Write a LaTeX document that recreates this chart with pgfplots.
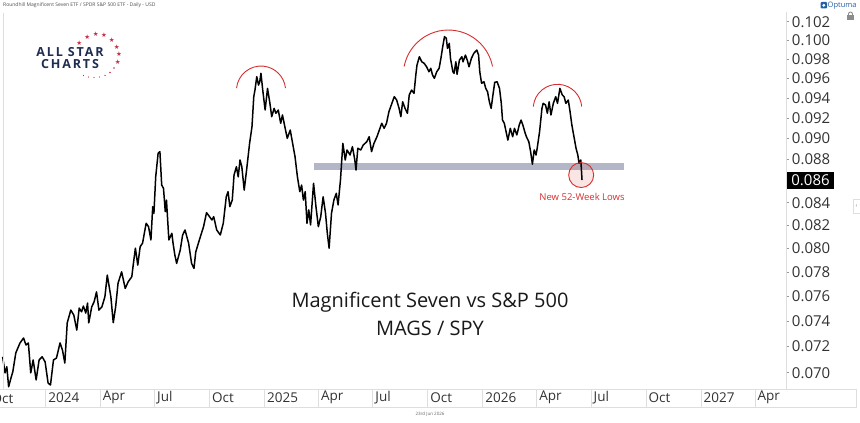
\documentclass[border=0pt]{standalone}
\usepackage{pgfplots}
\pgfplotsset{compat=1.18}
\usepackage{fontspec}
\setmainfont{Open Sans}
\newfontfamily\dejavu{DejaVu Sans}
\newfontfamily\logofont[LetterSpace=15]{Open Sans}
\definecolor{navy}{RGB}{30,45,80}
\definecolor{asred}{RGB}{200,45,70}
\definecolor{annred}{RGB}{215,45,45}
\definecolor{bandc}{RGB}{178,182,198}
\definecolor{optblue}{RGB}{35,95,165}
\definecolor{ticktext}{RGB}{50,50,50}
\definecolor{frame}{RGB}{222,222,222}

\begin{document}
\begin{tikzpicture}
\useasboundingbox (0pt,-34pt) rectangle (860pt,389pt);
\begin{axis}[
  at={(0pt,0pt)}, anchor=south west,
  scale only axis, width=786pt, height=379pt,
  xmin=-76.43, xmax=1238.15,
  ymode=log, ymin=0.068786, ymax=0.10329,
  yminorticks=false, xminorticks=false,
  axis line style={draw=none},
  tick align=outside,
  xtick pos=bottom, ytick pos=right,
  xtick={0,91,182,274,366,456,547,639,731,821,912,1004,1096,1186},
  xticklabels={2024,Apr,Jul,Oct,2025,Apr,Jul,Oct,2026,Apr,Jul,Oct,2027,Apr},
  ytick={0.070,0.072,0.074,0.076,0.078,0.080,0.082,0.084,0.086,0.088,0.090,0.092,0.094,0.096,0.098,0.100,0.102},
  yticklabels={0.070,0.072,0.074,0.076,0.078,0.080,0.082,0.084,,0.088,0.090,0.092,0.094,0.096,0.098,0.100,0.102},
  xtick style={draw=frame, line width=0.6pt, /pgfplots/major tick length=18.5pt},
  ytick style={draw=black!40, line width=0.5pt, /pgfplots/major tick length=3pt},
  xticklabel style={font=\fontsize{13.5}{14}\selectfont, text=ticktext, anchor=west, inner sep=0pt, xshift=2.5pt, yshift=-4.5pt},
  yticklabel style={font=\fontsize{15}{15}\selectfont, text=ticktext, anchor=west, inner sep=0pt, xshift=1.5pt},
  clip=true,
]
\fill[bandc] (axis cs:448.7,0.0870) rectangle (axis cs:967.2,0.08763);
\fill[annred, fill opacity=0.12] (axis cs:895.6,0.08653) circle[radius=12.5pt];
\addplot[black, line width=1.5pt, line join=round, mark=none] coordinates {
(-72,0.07121) (-68,0.06998) (-65,0.07045) (-62,0.06895) (-58,0.06961) (-55,0.07007) (-50,0.07150) (-43,0.07227) (-37,0.07266) (-33,0.07211) (-29,0.07227) (-25,0.06998) (-21,0.07096) (-16,0.06946) (-11,0.07096) (-6,0.07121) (-1,0.07083) (4,0.06923) (8,0.06908) (13,0.07096) (18,0.07111) (24,0.07227) (28,0.07173) (32,0.07073) (36,0.07384) (42,0.07487) (47,0.07447) (52,0.07328) (56,0.07503) (60,0.07473) (63,0.07519) (67,0.07463) (70,0.07543) (72,0.07384) (77,0.07513) (81,0.07554) (85,0.07635) (89,0.07487) (94,0.07513) (99,0.07594) (103,0.07773) (109,0.07594) (113,0.07386) (117,0.07513) (121,0.07705) (127,0.07801) (133,0.07663) (138,0.07718) (144,0.07759) (146,0.07843) (150,0.08000) (154,0.07857) (158,0.08013) (162,0.08043) (168,0.08217) (172,0.08187) (176,0.08071) (179,0.08365) (181,0.08305) (184,0.08637) (188,0.08857) (191,0.08873) (194,0.08561) (197,0.08531) (200,0.08320) (202,0.08424) (206,0.08071) (211,0.08129) (213,0.08043) (216,0.07942) (219,0.07871) (225,0.07985) (229,0.08114) (233,0.08158) (239,0.08043) (244,0.07871) (248,0.07829) (251,0.07970) (257,0.08071) (264,0.08187) (269,0.08311) (274,0.08275) (278,0.08246) (281,0.08275) (286,0.08158) (292,0.08114) (297,0.08217) (302,0.08454) (305,0.08500) (308,0.08365) (312,0.08424) (315,0.08653) (319,0.08731) (322,0.08637) (325,0.08794) (328,0.08731) (332,0.08515) (336,0.08700) (341,0.08952) (345,0.09113) (348,0.09412) (350,0.09479) (353,0.09616) (356,0.09530) (358,0.09564) (360,0.09651) (363,0.09479) (367,0.09278) (371,0.09496) (375,0.09345) (378,0.09212) (382,0.09295) (385,0.09246) (389,0.09278) (393,0.09147) (396,0.09229) (400,0.09113) (404,0.09001) (409,0.09081) (412,0.08984) (417,0.08825) (421,0.08637) (425,0.08500) (428,0.08561) (431,0.08424) (434,0.08500) (437,0.08217) (440,0.08335) (443,0.08202) (448,0.08577) (452,0.08365) (456,0.08187) (460,0.08275) (464,0.08454) (468,0.08305) (471,0.08129) (474,0.08000) (478,0.08305) (482,0.08424) (486,0.08485) (489,0.08380) (493,0.08607) (497,0.08952) (501,0.08794) (504,0.08889) (509,0.08841) (513,0.08920) (517,0.08794) (519,0.08700) (522,0.08905) (527,0.08889) (531,0.08936) (537,0.08968) (541,0.09016) (545,0.08873) (549,0.08952) (554,0.09016) (558,0.09081) (562,0.09147) (566,0.09098) (570,0.09147) (574,0.09261) (583,0.09412) (587,0.09378) (591,0.09295) (594,0.09212) (597,0.09361) (601,0.09295) (605,0.09246) (608,0.09429) (612,0.09479) (616,0.09446) (619,0.09633) (621,0.09737) (625,0.09824) (629,0.09771) (633,0.09755) (637,0.09719) (641,0.09667) (644,0.09703) (647,0.09633) (650,0.09599) (654,0.09667) (658,0.09703) (661,0.09807) (664,0.09930) (667,0.10038) (670,0.10020) (672,0.09913) (675,0.09966) (677,0.09807) (681,0.09667) (683,0.09651) (686,0.09771) (688,0.09640) (692,0.09789) (696,0.09824) (698,0.09771) (702,0.09842) (705,0.09789) (708,0.09719) (712,0.09807) (716,0.09860) (721,0.09895) (724,0.09842) (726,0.09667) (729,0.09548) (733,0.09564) (736,0.09496) (739,0.09462) (742,0.09361) (745,0.09295) (748,0.09429) (751,0.09558) (755,0.09564) (759,0.09496) (762,0.09345) (764,0.09179) (767,0.09147) (770,0.09065) (773,0.08984) (777,0.09098) (781,0.09016) (784,0.09098) (788,0.09033) (792,0.09130) (795,0.09179) (798,0.09130) (802,0.09049) (804,0.09016) (808,0.08968) (811,0.08873) (814,0.08754) (817,0.08889) (820,0.08841) (822,0.08905) (826,0.09065) (830,0.09295) (832,0.09345) (836,0.09328) (839,0.09246) (842,0.09361) (845,0.09229) (849,0.09345) (853,0.09412) (856,0.09345) (860,0.09496) (864,0.09429) (867,0.09412) (870,0.09345) (874,0.09378) (877,0.09261) (880,0.09130) (884,0.09001) (887,0.08905) (890,0.08841) (892,0.08763) (895,0.08794) (897,0.08607)
};
\draw[annred, line width=0.9pt] (axis cs:895.6,0.08653) circle[radius=12.5pt];
\draw[annred, line width=0.9pt] (axis cs:360.1,0.09473) ++(174:24.6pt) arc[start angle=174, end angle=6, radius=24.6pt];
\draw[annred, line width=0.9pt] (axis cs:673.4,0.09633) ++(169:45pt) arc[start angle=169, end angle=11, radius=45pt];
\draw[annred, line width=0.9pt] (axis cs:856.0,0.09292) ++(175:24.3pt) arc[start angle=175, end angle=5, radius=24.3pt];
\node[text=annred, font=\fontsize{9.5}{10}\selectfont] at (axis cs:897,0.08452) {New 52-Week Lows};
\end{axis}
% frame lines
\draw[frame, line width=0.6pt] (3.3pt,376pt) -- (3.3pt,0pt);
\draw[frame, line width=0.6pt] (786pt,377pt) -- (786pt,0pt);
\draw[frame, line width=0.6pt] (0pt,0pt) -- (856pt,0pt) -- (856pt,-18.5pt) -- (0pt,-18.5pt);
\node[anchor=west, inner sep=0pt, font=\fontsize{13.5}{14}\selectfont, text=ticktext] at (-8.5pt,-9.3pt) {Oct};
% current value box
\node[anchor=west, fill=black, text=white, inner xsep=4.5pt, inner ysep=0pt, minimum height=17.5pt, font=\fontsize{15}{15}\selectfont] at (786.7pt,208.5pt) {0.086};
% title
\node[align=center, font=\fontsize{20}{28}\selectfont, text=black!90] at (430pt,75pt) {Magnificent Seven vs S\&P 500\\MAGS / SPY};
% header / footer
\node[anchor=west, inner sep=0pt, font=\fontsize{5}{6}\selectfont, text=black!70] at (3pt,384pt) {Roundhill Magnificent Seven ETF / SPDR S\&P 500 ETF - Daily - USD};
\node[inner sep=0pt, font=\fontsize{4.5}{5}\selectfont, text=black!60] at (430pt,-25pt) {23rd Jun 2026};
% Optuma
\fill[optblue, rounded corners=1pt] (820.5pt,380.5pt) rectangle (827pt,387pt);
\fill[white] (823.8pt,383.7pt) circle[radius=1.6pt];
\node[anchor=west, inner sep=0pt, font=\fontsize{7.5}{8}\selectfont, text=optblue] at (827.5pt,383.5pt) {Optuma};
% lock
\fill[black!45] (847pt,368.5pt) rectangle (854pt,373.5pt);
\draw[black!45, line width=0.9pt] (848.5pt,373.5pt) -- (848.5pt,375pt) arc[start angle=180, end angle=0, radius=2pt] -- (852.5pt,373.5pt);
% side tab
\draw[frame, line width=0.6pt] (853pt,176pt) rectangle (862pt,190pt);
\node[inner sep=0pt, font=\fontsize{6}{6}\selectfont, text=black!45] at (856.5pt,183pt) {‹};
% logo
\node[font=\logofont\bfseries\fontsize{12.5}{13}\selectfont, text=navy, inner sep=0pt] at (70pt,336.5pt) {ALL STAR};
\node[font=\logofont\bfseries\fontsize{12.5}{13}\selectfont, text=navy, inner sep=0pt] at (70pt,325pt) {CHARTS};
\foreach \px/\py in {79.3/346.3, 87.3/352.3, 95.7/354.7, 104/353.7, 111.7/349, 116.7/342.3, 119/334.7, 117.7/327.3}
  \node[inner sep=0pt, text=asred, font=\dejavu\fontsize{6.5}{7}\selectfont] at (\px pt,\py pt) {★};
\foreach \px/\py/\r in {114/321/0.9, 110/316.5/0.8, 105/313.5/0.75, 99.5/312/0.7, 94/311.5/0.65, 88.5/312/0.6, 83.5/313.5/0.55}
  \fill[asred] (\px pt,\py pt) circle[radius=\r pt];
\end{tikzpicture}
\end{document}
